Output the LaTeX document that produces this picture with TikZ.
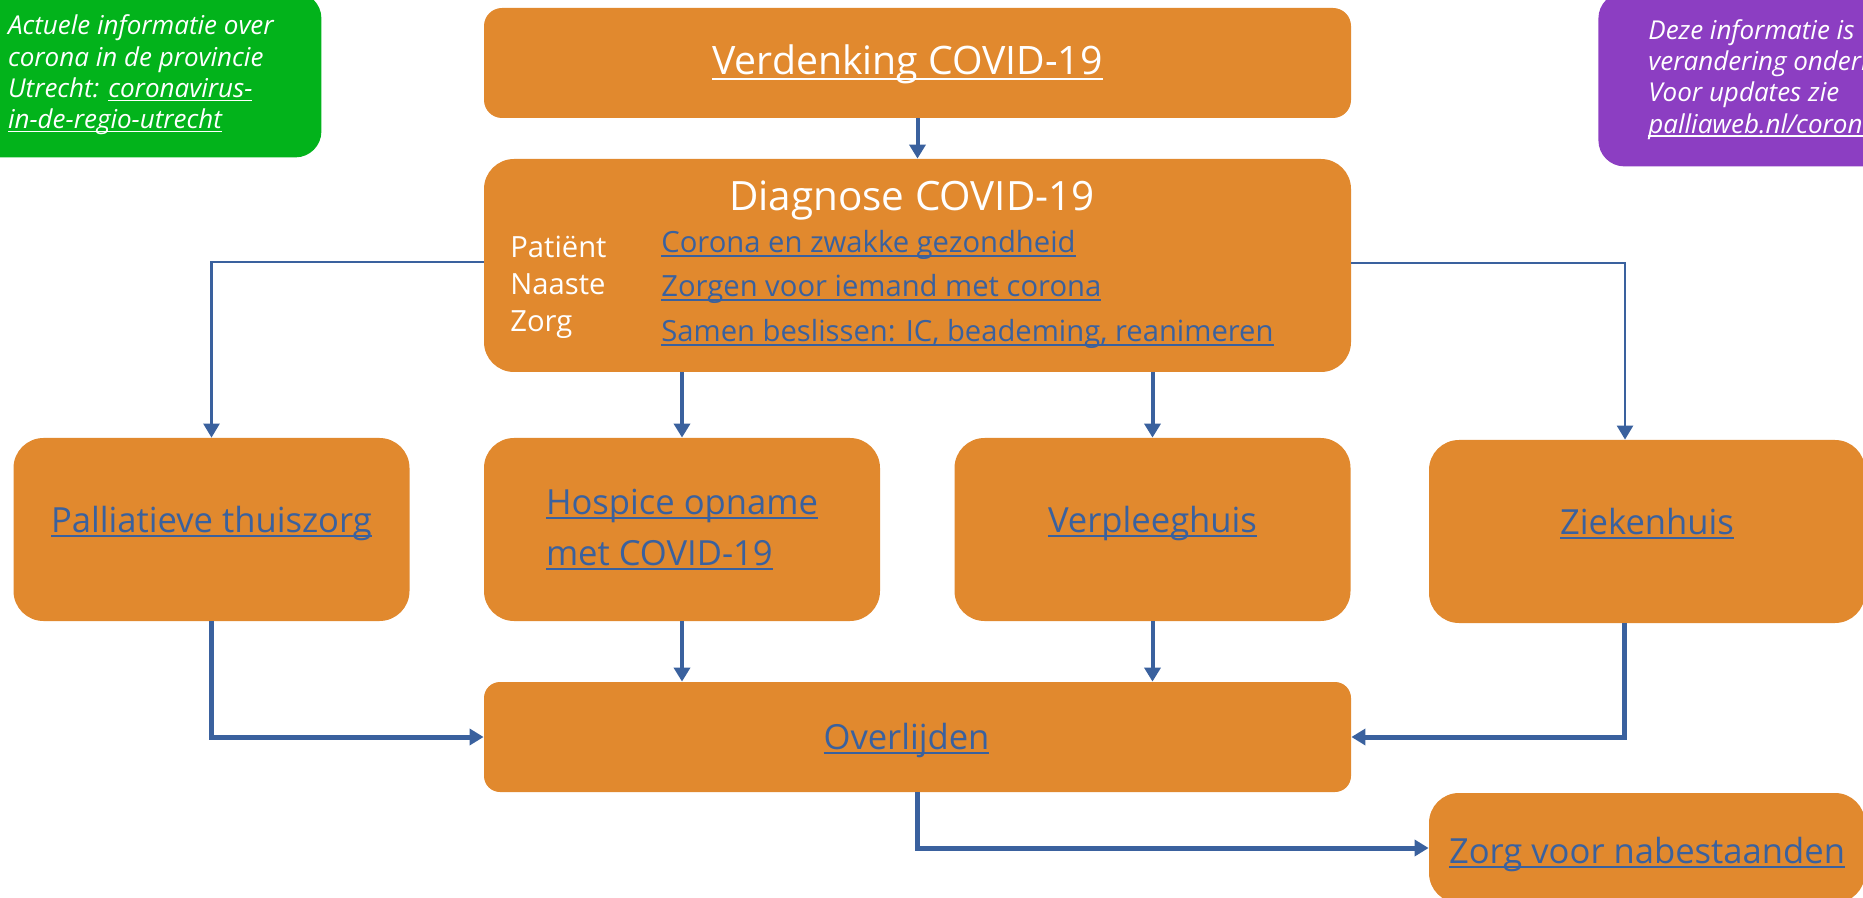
\documentclass[tikz,border=0pt]{standalone}
\usepackage{fontspec}
\setmainfont{Open Sans}
\usepackage{xcolor}
\usetikzlibrary{positioning,arrows.meta}
\definecolor{boxorange}{HTML}{E1892E}
\definecolor{lineblue}{HTML}{3A619E}
\definecolor{infogreen}{HTML}{02B31B}
\definecolor{infopurple}{HTML}{8C3EC2}
\newsavebox\lnkbox
\newcommand\lnk[1]{\sbox\lnkbox{#1}\rlap{\rule[-0.14em]{\wd\lnkbox}{0.055em}}\usebox\lnkbox}

\begin{document}
\begin{tikzpicture}[x=0.5pt, y=-0.5pt,
  box/.style={fill=boxorange, rounded corners=15pt, inner sep=0pt,
              text=lineblue, align=left, font=\fontsize{17.3}{25.5}\selectfont},
  wide/.style={box, minimum width=433.5pt, minimum height=55pt,
               rounded corners=9pt, text height=14pt, text depth=2pt},
  side/.style={box, minimum width=198pt, minimum height=91.5pt},
  oneline/.style={text height=10pt, text depth=7pt},
  info/.style={rounded corners=13pt, text=white, align=left, inner sep=0pt,
               font=\itshape\fontsize{13}{15.6}\selectfont},
  lbl/.style={inner sep=0pt, anchor=base west, font=\fontsize{14.6}{18}\selectfont},
  arr/.style={-{Triangle[length=7pt,width=8pt]}, line width=2pt, draw=lineblue},
  thinarr/.style={arr, line width=1.25pt},
  thickarr/.style={arr, line width=2.5pt}
]
\useasboundingbox (0,0) rectangle (1863,898);
\clip (0,0) rectangle (1863,898);

% information corners
\node[info, fill=infogreen, anchor=north west, minimum width=180.5pt,
      minimum height=82.5pt] (news) at (-40,-8)
  {Actuele informatie over\\corona in de provincie\\Utrecht: \lnk{coronavirus-}\\\lnk{in-de-regio-utrecht}};
\node[info, fill=infopurple, anchor=north west, inner xsep=25pt,
      minimum height=87pt] (upd) at (1598,-8)
  {Deze informatie is\\verandering onderhevig.\\Voor updates zie\\\lnk{palliaweb.nl/corona}};

% main flow
\node[wide, text=white, font=\fontsize{19.6}{24}\selectfont] (verd) at (917.5,63) {\hspace*{-10pt}\lnk{Verdenking COVID-19}};
\node[box, minimum width=433.5pt, minimum height=106.5pt] (diag) at (917.5,265.5) {};
\node[lbl, anchor=base, text=white, font=\fontsize{20.2}{24}\selectfont] (diagt) at (912,211) {Diagnose COVID-19};
\node[lbl, text=white] (pat) at (510,258) {Patiënt};
\node[lbl, text=white] (naa) at (510,295) {Naaste};
\node[lbl, text=white] (zrg) at (510,332) {Zorg};
\node[lbl, text=lineblue] (lnka) at (661,253) {\lnk{Corona en zwakke gezondheid}};
\node[lbl, text=lineblue] (lnkb) at (661,297) {\lnk{Zorgen voor iemand met corona}};
\node[lbl, text=lineblue] (lnkc) at (661,342) {\lnk{Samen beslissen: IC, beademing, reanimeren}};

\node[side, oneline] (pall) at (211.5,529.5) {\lnk{Palliatieve thuiszorg}};
\node[side] (hosp) at (682,529.5) {\lnk{Hospice opname}\\\lnk{met COVID-19}};
\node[side, oneline] (verp) at (1152.5,529.5) {\lnk{Verpleeghuis}};
\node[side, oneline, minimum width=218pt] (ziek) at (1647,531.5) {\lnk{Ziekenhuis}};

\node[wide, rounded corners=8pt] (over) at (917.5,737) {\hspace*{-11pt}\lnk{Overlijden}};
\node[box, minimum width=218pt, minimum height=55pt,
      text height=15.5pt, text depth=0.5pt] (zorg) at (1647,848) {\lnk{Zorg voor nabestaanden}};

% connectors
\draw[arr] (verd) -- (diag);
\draw[thinarr] ([yshift=1.75pt]diag.west) -| (pall.north);
\draw[thinarr] ([yshift=1.25pt]diag.east) -| ([xshift=-11pt]ziek.north);
\draw[arr] (diag.south -| hosp.north) -- (hosp.north);
\draw[arr] (diag.south -| verp.north) -- (verp.north);
\draw[arr] (hosp.south) -- (hosp.south |- over.north);
\draw[arr] (verp.south) -- (verp.south |- over.north);
\draw[thickarr] (pall.south) |- (over.west);
\draw[thickarr] ([xshift=-11.5pt]ziek.south) |- (over.east);
\draw[thickarr] (over.south) |- (zorg.west);
\end{tikzpicture}
\end{document}
